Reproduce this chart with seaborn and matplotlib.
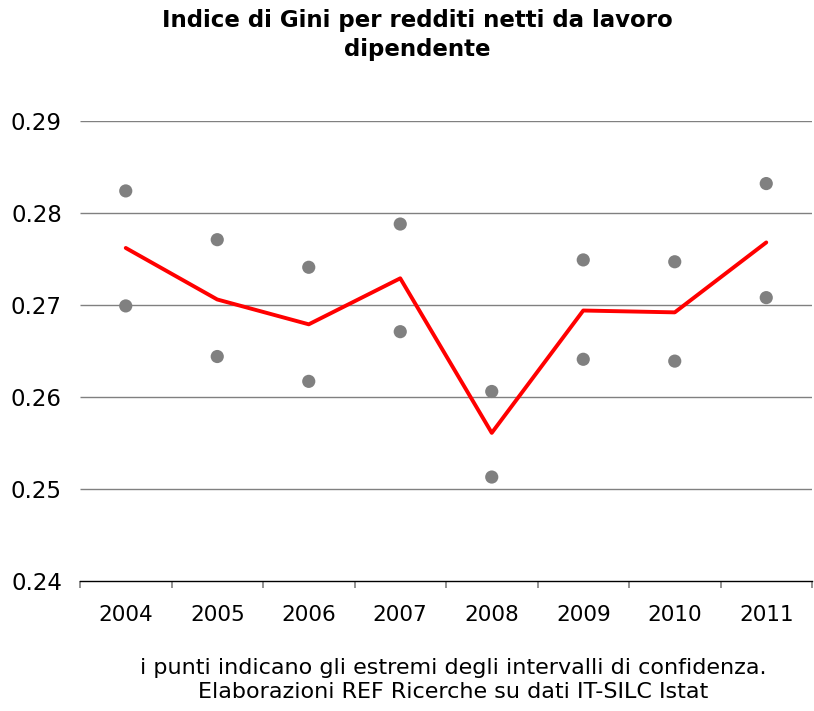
import matplotlib
matplotlib.use("Agg")
import matplotlib.pyplot as plt
import seaborn as sns
import pandas as pd
import numpy as np

years = ["2004", "2005", "2006", "2007", "2008", "2009", "2010", "2011"]
gini = [0.2762, 0.2706, 0.2679, 0.2729, 0.2561, 0.2694, 0.2692, 0.2768]
ci_upper = [0.2824, 0.2771, 0.2741, 0.2788, 0.2606, 0.2749, 0.2747, 0.2832]
ci_lower = [0.2699, 0.2644, 0.2617, 0.2671, 0.2513, 0.2641, 0.2639, 0.2708]
y_ticks = [0.24, 0.25, 0.26, 0.27, 0.28, 0.29]

sns.set_style("white", {"xtick.bottom": True, "text.color": "black",
                        "xtick.color": "black", "ytick.color": "black"})
plt.rcParams["font.family"] = ["DejaVu Sans"]

fig = plt.figure(figsize=(8.14, 7.11), dpi=100)
ax = fig.add_axes([80 / 814, 1 - 581 / 711, 732 / 814, 460 / 711])

df = pd.DataFrame({"anno": years, "gini": gini})
pos = np.arange(len(years))

ax.hlines(y_ticks[1:], -0.5, len(years) - 0.5, color="#808080", lw=1.0, zorder=0)

sns.scatterplot(x=pos, y=ci_upper, color="#808080", s=90, edgecolor="none", ax=ax, zorder=2)
sns.scatterplot(x=pos, y=ci_lower, color="#808080", s=90, edgecolor="none", ax=ax, zorder=2)
sns.lineplot(x=pos, y=df["gini"], color="#ff0000", lw=2.8, ax=ax, zorder=3)

ax.set_xlim(-0.5, len(years) - 0.5)
ax.set_ylim(0.24, 0.29)
ax.set_yticks(y_ticks)
ax.set_yticklabels([f"{v:.2f}" for v in y_ticks], fontsize=16.5)
ax.set_xticks(pos)
ax.set_xticklabels(years, fontsize=15.5)
ax.set_xticks(np.arange(-0.5, len(years), 1.0), minor=True)
ax.tick_params(axis="x", which="major", length=0, pad=17)
ax.tick_params(axis="x", which="minor", bottom=True, length=5, width=1.2,
               color="#808080", direction="out")
ax.tick_params(axis="y", length=0, pad=13)
ax.set_xlabel("")
ax.set_ylabel("")

for side in ["top", "right", "left"]:
    ax.spines[side].set_visible(False)
ax.spines["bottom"].set_color("#000000")
ax.spines["bottom"].set_linewidth(1.0)

fig.text(0.513, 1 - 35 / 711, "Indice di Gini per redditi netti da lavoro\ndipendente",
         ha="center", va="center", fontsize=16.5, fontweight="bold", linespacing=1.3,
         color="black")
fig.text(0.557, 1 - 680 / 711,
         "i punti indicano gli estremi degli intervalli di confidenza.\nElaborazioni REF Ricerche su dati IT-SILC Istat",
         ha="center", va="center", fontsize=16, linespacing=1.25, color="black")

fig.savefig("out.png", dpi=100)
